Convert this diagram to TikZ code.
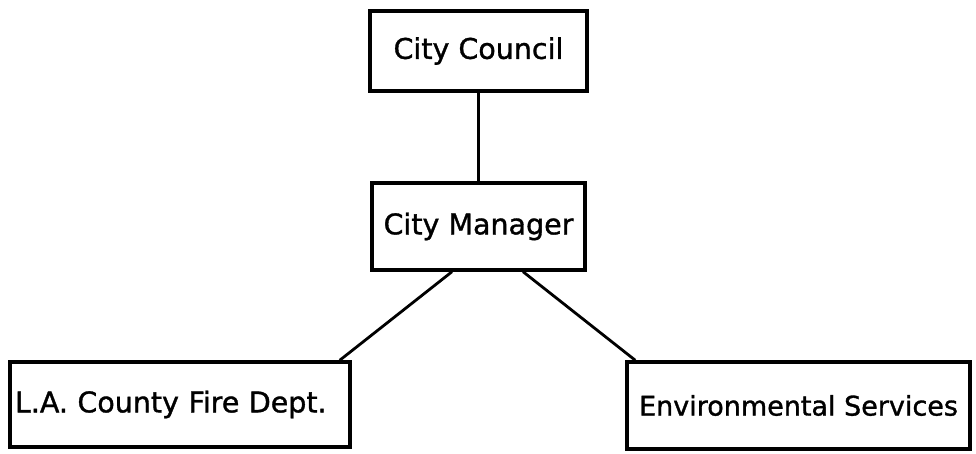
\documentclass[tikz,border=0pt]{standalone}
\usepackage{fontspec}
\setmainfont[FakeBold=1.2]{DejaVu Sans}
\usetikzlibrary{calc}
\begin{document}
\begin{tikzpicture}[x=1pt,y=-1pt,
  orgbox/.style={draw=black, line width=3.4pt, fill=white, inner sep=0pt,
    font=\fontsize{28.5}{31}\selectfont, text=black},
  link/.style={draw=black, line width=2.8pt}]
  \useasboundingbox (0,0) rectangle (976,454);

  % boxes of the chart
  \node[orgbox, minimum width=217pt, minimum height=80pt] (council) at (478.5,51) {City Council};
  \node[orgbox, minimum width=213pt, minimum height=87pt] (mgr) at (478.5,226.5) {City Manager};
  \node[orgbox, minimum width=340pt, minimum height=85pt, text width=330pt, align=left] (fire) at (180,404.5) {L.A. County Fire Dept.};
  \node[orgbox, minimum width=343pt, minimum height=87pt, font=\fontsize{27}{30}\selectfont] (env) at (798.5,405.5) {Environmental Services};

  % reporting lines
  \draw[link] (council.south) -- (mgr.north);
  \draw[link] ($(mgr.south)+(-26.5,0)$) -- ($(fire.north east)+(-12,0)$);
  \draw[link] ($(mgr.south)+(44.5,0)$) -- ($(env.north west)+(10,0)$);
\end{tikzpicture}
\end{document}
